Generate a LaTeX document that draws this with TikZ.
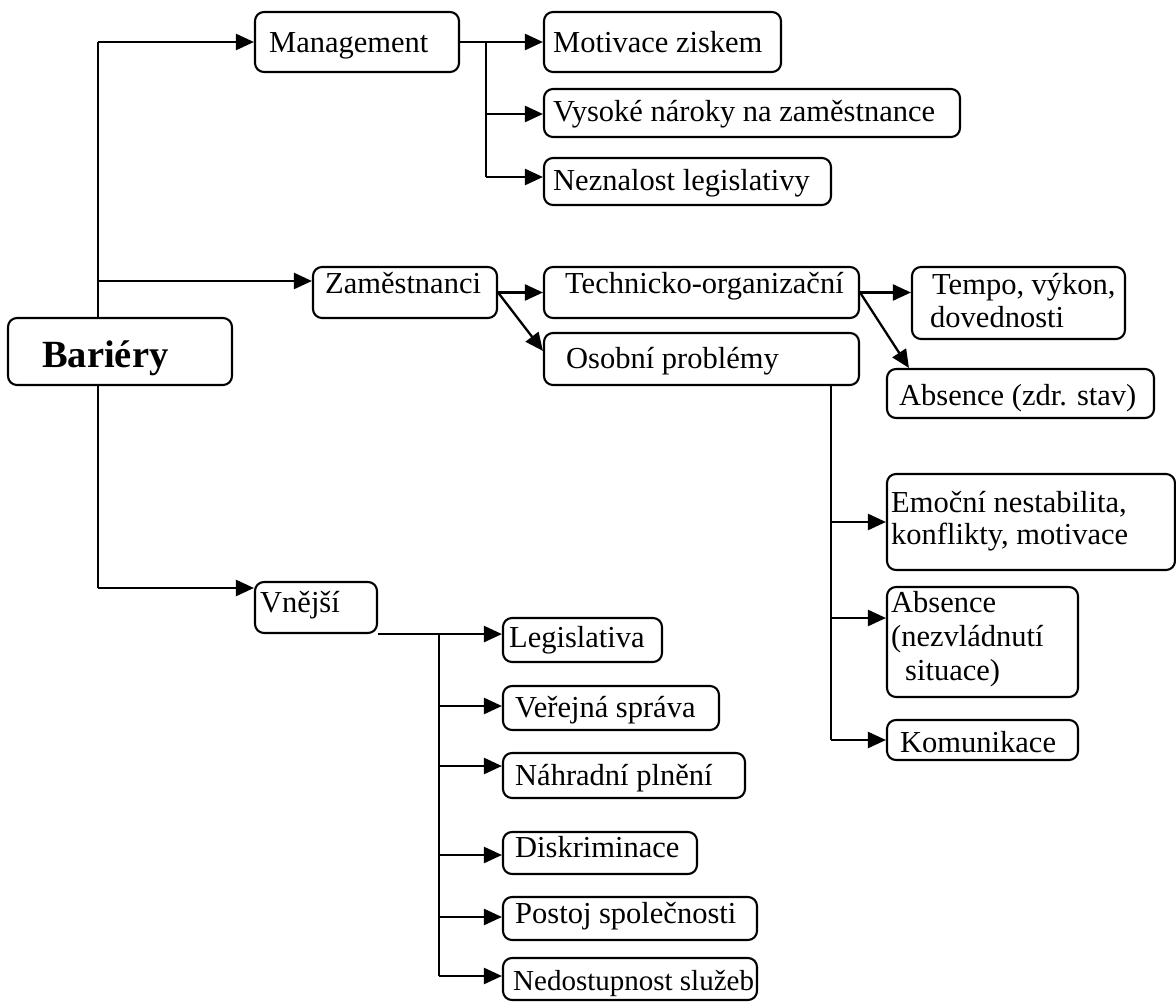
\documentclass[tikz,border=0pt]{standalone}
\usepackage{fontspec}
\setmainfont{Liberation Serif}
\usetikzlibrary{arrows.meta,calc}
\tikzset{
  bx/.style={draw, rounded corners=9pt, line width=2.1pt, inner sep=0pt, fill=white},
  lbl/.style={anchor=base west, inner sep=0pt, font=\fontsize{30.5}{34}\selectfont},
  bigl/.style={anchor=base west, inner sep=0pt, font=\fontsize{38.5}{40}\selectfont\bfseries},
  ln/.style={line width=2.3pt},
  arr/.style={line width=2.3pt, -{Triangle[length=18pt,width=16pt]}},
}
\newcommand\bxn[5]{\node[bx, minimum width={(#4-#2)*1pt}, minimum height={(#5-#3)*1pt}] (#1) at ({(#2+#4)/2},{(#3+#5)/2}) {};}
\begin{document}
\begin{tikzpicture}[x=1pt,y=-1pt]
\useasboundingbox (0,0) rectangle (1176,1006);

% boxes
\bxn{bar}{8}{318}{232}{385}
\bxn{mgmt}{255}{12}{459}{72}
\bxn{motiv}{544}{12}{781}{72}
\bxn{vys}{544}{89}{960}{137}
\bxn{nezn}{544}{158}{831}{205}
\bxn{zam}{313}{267}{497}{318}
\bxn{tech}{544}{267}{859}{318}
\bxn{osob}{544}{333}{859}{385}
\bxn{tempo}{912}{267}{1125}{339}
\bxn{abs1}{887}{369}{1154}{418}
\bxn{emoc}{887}{474}{1175}{570}
\bxn{abs2}{887}{587}{1078}{697}
\bxn{komun}{887}{720}{1078}{760}
\bxn{vnej}{255}{582}{377}{633}
\bxn{legis}{503}{618}{662}{662}
\bxn{verej}{503}{686}{719}{730}
\bxn{nahr}{503}{753}{745}{798}
\bxn{diskr}{503}{832}{697}{874}
\bxn{postoj}{503}{897}{757}{940}
\bxn{nedost}{503}{958}{757}{1000}

% texts
\node[bigl] (bar-t) at (42,367) {Bariéry};
\node[lbl] (mgmt-t) at (269,53) {Management};
\node[lbl] (motiv-t) at (553,53) {Motivace ziskem};
\node[lbl] (vys-t) at (553,122) {Vysoké nároky na zaměstnance};
\node[lbl] (nezn-t) at (553,190) {Neznalost legislativy};
\node[lbl] (zam-t) at (325,293) {Zaměstnanci};
\node[lbl] (tech-t) at (565,293) {Technicko-organizační};
\node[lbl] (osob-t) at (566,368) {Osobní problémy};
\node[lbl] (tempo-t1) at (932,294) {Tempo, výkon,};
\node[lbl] (tempo-t2) at (930,327) {dovednosti};
\node[lbl] (abs1-t) at (899,405) {Absence (zdr. stav)};
\node[lbl] (emoc-t1) at (891,512) {Emoční nestabilita,};
\node[lbl] (emoc-t2) at (891,544) {konflikty, motivace};
\node[lbl] (abs2-t1) at (891,612) {Absence};
\node[lbl] (abs2-t2) at (891,646) {(nezvládnutí};
\node[lbl] (abs2-t3) at (905,680) {situace)};
\node[lbl] (komun-t) at (900,752) {Komunikace};
\node[lbl] (vnej-t) at (260,612) {Vnější};
\node[lbl] (legis-t) at (509,647) {Legislativa};
\node[lbl] (verej-t) at (515,717) {Veřejná správa};
\node[lbl] (nahr-t) at (515,785) {Náhradní plnění};
\node[lbl] (diskr-t) at (515,857) {Diskriminace};
\node[lbl] (postoj-t) at (515,923) {Postoj společnosti};
\node[lbl, font=\fontsize{29}{34}\selectfont] (nedost-t) at (513,990) {Nedostupnost služeb};

% main trunk
\coordinate (t1) at (98,42);
\coordinate (t2) at (98,281);
\coordinate (t3) at (98,588);
\draw[ln] (bar.north -| t1) -- (t1);
\draw[ln] (bar.south -| t1) -- (t3);
\draw[arr] (t1) -- (t1 -| mgmt.west);
\draw[arr] (t2) -- (t2 -| zam.west);
\draw[arr] (t3) -- (t3 -| vnej.west);

% management
\coordinate (m1) at (486,42);
\coordinate (m2) at (486,114);
\coordinate (m3) at (486,177);
\draw[arr] (mgmt.east) -- (motiv.west);
\draw[ln] (m1) -- (m3);
\draw[arr] (m2) -- (m2 -| vys.west);
\draw[arr] (m3) -- (m3 -| nezn.west);

% zamestnanci
\draw[arr] (zam.east) -- (tech.west);
\draw[arr] (zam.east) -- ($(osob.north west)+(0,19)$);
\draw[arr] (tech.east) -- (tech.east -| tempo.west);
\draw[arr] (tech.east) -- ($(abs1.north west)+(23,0)$);

% osobni problemy
\coordinate (o1) at (831,522);
\coordinate (o2) at (831,618);
\coordinate (o3) at (831,740);
\draw[ln] (osob.south -| o1) -- (o3);
\draw[arr] (o1) -- (o1 -| emoc.west);
\draw[arr] (o2) -- (o2 -| abs2.west);
\draw[arr] (o3) -- (o3 -| komun.west);

% vnejsi
\coordinate (v0) at (439,633);
\coordinate (v1) at (439,706);
\coordinate (v2) at (439,766);
\coordinate (v3) at (439,855);
\coordinate (v4) at (439,917);
\coordinate (v5) at (439,976);
\draw[arr] (vnej.south east) -- (vnej.south east -| legis.west);
\draw[ln] (v0) -- (v5);
\draw[arr] (v1) -- (v1 -| verej.west);
\draw[arr] (v2) -- (v2 -| nahr.west);
\draw[arr] (v3) -- (v3 -| diskr.west);
\draw[arr] (v4) -- (v4 -| postoj.west);
\draw[arr] (v5) -- (v5 -| nedost.west);
\end{tikzpicture}
\end{document}
